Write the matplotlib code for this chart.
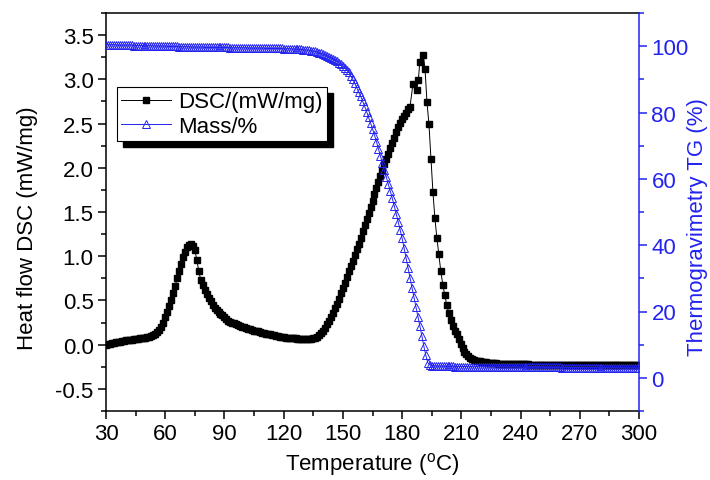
import numpy as np
import matplotlib
matplotlib.use('Agg')
import matplotlib.pyplot as plt
from matplotlib.ticker import MultipleLocator
from matplotlib.patches import Rectangle
from matplotlib.transforms import IdentityTransform

plt.rcParams['font.family'] = ['Liberation Sans', 'DejaVu Sans']
plt.rcParams['mathtext.fontset'] = 'custom'
plt.rcParams['mathtext.rm'] = 'Liberation Sans'
plt.rcParams['axes.unicode_minus'] = False

# DSC heat flow (mW/mg): 1 degC steps 30..184, the scattered points round the peak, then the fall
dsc_temp = list(range(30, 185)) + [185.5, 187.4, 188.2, 189.0, 190.7, 191.6] + [192.6 + i for i in range(108)]
dsc_val = [
    0.00, 0.005, 0.01, 0.015, 0.02, 0.025, 0.03, 0.035, 0.04, 0.045,
    0.05, 0.052, 0.055, 0.057, 0.06, 0.063, 0.066, 0.07, 0.073, 0.077,
    0.08, 0.085, 0.09, 0.10, 0.11, 0.125, 0.14, 0.17, 0.20, 0.25,
    0.31, 0.37, 0.44, 0.51, 0.58, 0.66, 0.75, 0.83, 0.91, 0.99,
    1.05, 1.10, 1.13, 1.14, 1.12, 1.07, 0.96, 0.83, 0.73, 0.67,
    0.62, 0.57, 0.53, 0.49, 0.45, 0.42, 0.39, 0.37, 0.35, 0.33,
    0.31, 0.29, 0.27, 0.26, 0.25, 0.24, 0.23, 0.22, 0.21, 0.20,
    0.195, 0.19, 0.18, 0.175, 0.17, 0.16, 0.155, 0.15, 0.14, 0.135,
    0.13, 0.125, 0.12, 0.115, 0.11, 0.105, 0.10, 0.095, 0.09, 0.087,
    0.084, 0.081, 0.078, 0.076, 0.074, 0.072, 0.07, 0.068, 0.067, 0.066,
    0.065, 0.065, 0.065, 0.066, 0.068, 0.072, 0.08, 0.09, 0.11, 0.13,
    0.16, 0.19, 0.23, 0.27, 0.31, 0.36, 0.41, 0.46, 0.52, 0.58,
    0.64, 0.70, 0.76, 0.83, 0.89, 0.95, 1.01, 1.08, 1.14, 1.21,
    1.28, 1.35, 1.42, 1.49, 1.56, 1.63, 1.70, 1.77, 1.84, 1.91,
    1.98, 2.04, 2.10, 2.16, 2.22, 2.28, 2.34, 2.40, 2.46, 2.51,
    2.55, 2.59, 2.62, 2.66, 2.69,
    2.95, 2.88, 2.99, 3.20, 3.28, 3.12,
    2.74, 2.49, 2.10, 1.73, 1.43, 1.21, 1.02, 0.83, 0.68, 0.56,
    0.45, 0.36, 0.28, 0.21, 0.16, 0.12, 0.06, 0.01, -0.04, -0.08,
    -0.11, -0.13, -0.15, -0.16, -0.17, -0.18, -0.185, -0.19, -0.195, -0.20,
    -0.20, -0.205, -0.205, -0.21, -0.21, -0.21, -0.215, -0.215, -0.215, -0.22,
    -0.22, -0.22, -0.22, -0.22, -0.22, -0.22, -0.22, -0.22, -0.22, -0.22,
    -0.22, -0.22, -0.225, -0.225, -0.225, -0.225, -0.225, -0.225, -0.225, -0.225,
    -0.225, -0.225, -0.225, -0.225, -0.225, -0.225, -0.225, -0.225, -0.225, -0.225,
    -0.23, -0.23, -0.23, -0.23, -0.23, -0.23, -0.23, -0.23, -0.23, -0.23,
    -0.23, -0.23, -0.23, -0.23, -0.23, -0.23, -0.23, -0.23, -0.23, -0.23,
    -0.235, -0.235, -0.235, -0.235, -0.235, -0.235, -0.235, -0.235, -0.235, -0.235,
    -0.235, -0.235, -0.235, -0.235, -0.235, -0.235, -0.235, -0.235,
]

# TG mass (%), 1 degC steps 30..300
tg_temp = list(range(30, 301))
tg_val = [
    100.4, 100.4, 100.4, 100.4, 100.4, 100.4, 100.3, 100.3, 100.3, 100.3,
    100.3, 100.3, 100.3, 100.3, 100.2, 100.2, 100.2, 100.2, 100.2, 100.2,
    100.1, 100.1, 100.1, 100.1, 100.1, 100.0, 100.0, 100.0, 100.0, 100.0,
    100.0, 99.9, 99.9, 99.9, 99.9, 99.9, 99.9, 99.8, 99.8, 99.8,
    99.8, 99.8, 99.8, 99.7, 99.7, 99.7, 99.7, 99.7, 99.7, 99.7,
    99.6, 99.6, 99.6, 99.6, 99.6, 99.6, 99.6, 99.6, 99.6, 99.6,
    99.6, 99.6, 99.6, 99.5, 99.5, 99.5, 99.5, 99.5, 99.5, 99.5,
    99.5, 99.5, 99.4, 99.4, 99.4, 99.4, 99.4, 99.4, 99.4, 99.4,
    99.4, 99.3, 99.3, 99.3, 99.3, 99.3, 99.3, 99.3, 99.3, 99.3,
    99.2, 99.2, 99.2, 99.2, 99.2, 99.1, 99.1, 99.1, 99.0, 99.0,
    98.9, 98.9, 98.8, 98.7, 98.6, 98.5, 98.4, 98.2, 98.0, 97.8,
    97.6, 97.4, 97.1, 96.8, 96.5, 96.2, 95.8, 95.4, 95.0, 94.5,
    94.0, 93.5, 92.9, 92.1, 91.1, 90.0, 88.8, 87.5, 86.2, 84.9,
    83.4, 81.9, 80.3, 78.6, 76.9, 75.1, 73.2, 71.2, 69.1, 66.9,
    64.7, 62.6, 60.5, 58.4, 56.3, 54.2, 51.9, 49.5, 47.1, 44.6,
    42.1, 39.1, 36.1, 33.1, 30.1, 27.2, 24.3, 21.3, 18.4, 15.5,
    12.7, 9.6, 6.8, 4.6, 3.9, 3.7, 3.6, 3.55, 3.5, 3.5,
    3.5, 3.5, 3.5, 3.45, 3.45, 3.45, 3.45, 3.4, 3.4, 3.4,
    3.4, 3.4, 3.4, 3.4, 3.4, 3.35, 3.35, 3.35, 3.35, 3.35,
    3.35, 3.3, 3.3, 3.3, 3.3, 3.3, 3.3, 3.3, 3.3, 3.3,
    3.3, 3.3, 3.25, 3.25, 3.25, 3.25, 3.25, 3.25, 3.25, 3.25,
    3.25, 3.2, 3.2, 3.2, 3.2, 3.2, 3.2, 3.2, 3.2, 3.2,
    3.2, 3.2, 3.15, 3.15, 3.15, 3.15, 3.15, 3.15, 3.15, 3.15,
    3.15, 3.1, 3.1, 3.1, 3.1, 3.1, 3.1, 3.1, 3.1, 3.1,
    3.1, 3.1, 3.05, 3.05, 3.05, 3.05, 3.05, 3.05, 3.05, 3.05,
    3.05, 3.0, 3.0, 3.0, 3.0, 3.0, 3.0, 3.0, 3.0, 3.0,
    3.0, 3.0, 2.95, 2.95, 2.95, 2.95, 2.95, 2.95, 2.95, 2.95,
    2.9,
]

blue = '#2323f0'
fs = 16
W, H = 710, 481

fig = plt.figure(figsize=(7.1, 4.81), dpi=100)
ax1 = fig.add_axes([106 / W, 1 - 412 / H, (639 - 106) / W, (412 - 14) / H])
ax2 = ax1.twinx()

l1, = ax1.plot(dsc_temp, dsc_val, color='k', lw=0.7, marker='s', ms=4.5,
               mfc='k', mec='k', label='DSC/(mW/mg)')
l2, = ax2.plot(tg_temp, tg_val, color=blue, lw=0.7, marker='^', ms=5.5,
               mfc='none', mec=blue, mew=0.7, label='Mass/%')

ax1.set_xlim(30, 300)
ax1.set_ylim(-0.75, 3.75)
ax2.set_ylim(-10, 110)

ax1.xaxis.set_major_locator(MultipleLocator(30))
ax1.xaxis.set_minor_locator(MultipleLocator(15))
ax1.yaxis.set_major_locator(MultipleLocator(0.5))
ax1.yaxis.set_minor_locator(MultipleLocator(0.25))
ax2.yaxis.set_major_locator(MultipleLocator(20))
ax2.yaxis.set_minor_locator(MultipleLocator(10))

ax1.tick_params(which='major', direction='out', length=6, width=1.1, labelsize=fs, pad=3)
ax1.tick_params(which='minor', direction='out', length=3.5, width=1.1)
ax2.tick_params(which='major', direction='out', length=6, width=1.1, labelsize=fs,
                colors=blue, pad=3)
ax2.tick_params(which='minor', direction='out', length=3.5, width=1.1, colors=blue)

for s in ['left', 'bottom', 'top']:
    ax1.spines[s].set_linewidth(1.1)
ax1.spines['right'].set_visible(False)
for s in ['left', 'bottom', 'top']:
    ax2.spines[s].set_visible(False)
ax2.spines['right'].set_color(blue)
ax2.spines['right'].set_linewidth(1.1)

fig.text(28 / W, 1 - 228 / H, 'Heat flow DSC (mW/mg)', rotation=90,
         ha='center', va='center', fontsize=fs)
fig.text(697 / W, 1 - 227 / H, 'Thermogravimetry TG (%)', rotation=90,
         ha='center', va='center', fontsize=fs, color=blue)
fig.text(372 / W, 1 - 465 / H, r'Temperature ($\mathregular{^o}$C)',
         ha='center', va='center', fontsize=fs)

leg = ax2.legend([l1, l2], ['DSC/(mW/mg)', 'Mass/%'], loc='upper left',
                 bbox_to_anchor=((117 - 106) / 533, (412 - 88) / 398),
                 borderaxespad=0, fontsize=fs, fancybox=False, framealpha=1,
                 edgecolor='k', handlelength=2.25, handletextpad=0.3,
                 labelspacing=0.15, borderpad=0.2, numpoints=1)
leg.get_frame().set_linewidth(0.8)

# solid black drop shadow like the original legend box
fig.canvas.draw()
bb = leg.get_frame().get_window_extent()
shadow = Rectangle((bb.x0 + 6, bb.y0 - 6), bb.width, bb.height,
                   transform=IdentityTransform(), facecolor='k', edgecolor='k',
                   zorder=4.9, clip_on=False)
ax2.add_artist(shadow)

fig.savefig('out.png', dpi=100)
